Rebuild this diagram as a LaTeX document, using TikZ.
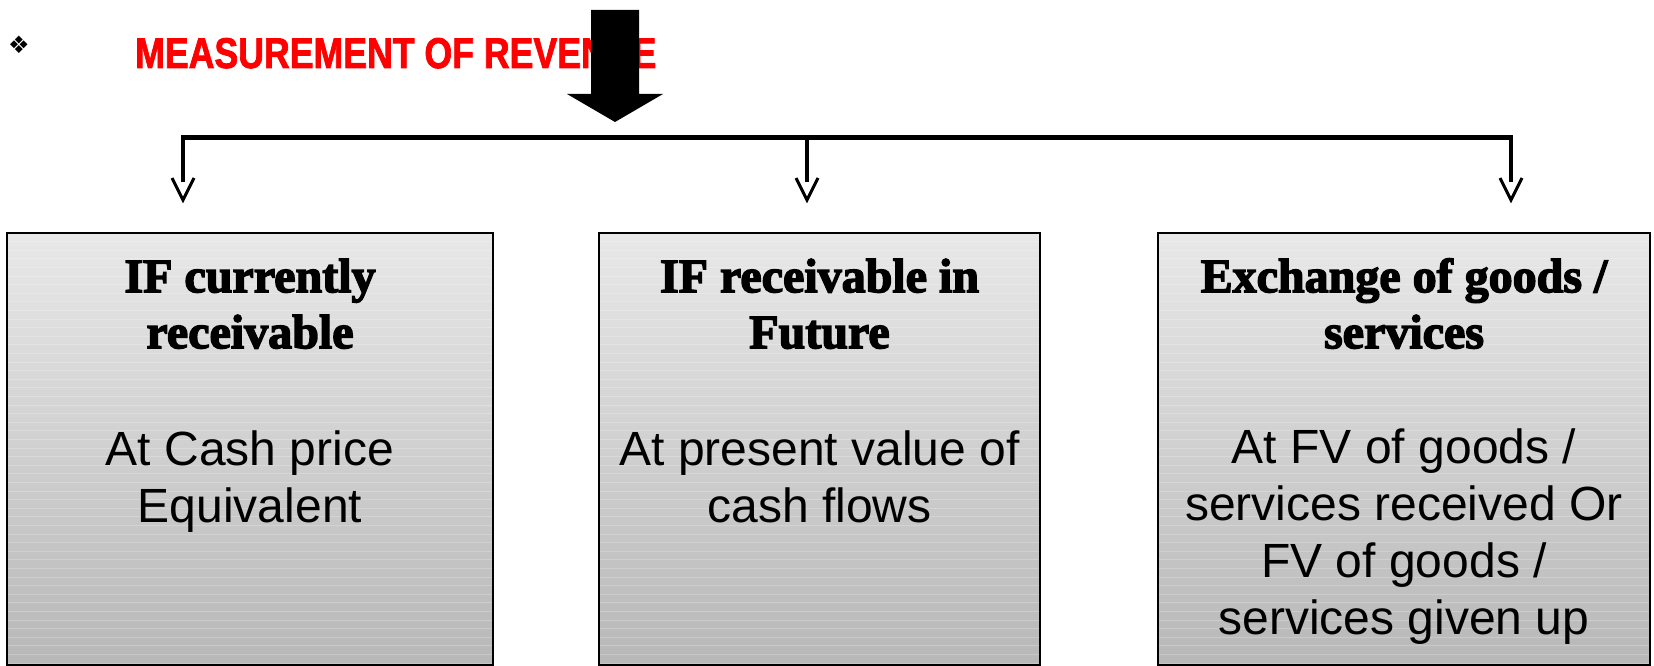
\documentclass[tikz,border=0pt]{standalone}
\usepackage{fontspec}
\setmainfont{Liberation Sans}
\newfontfamily\headfont[FakeBold=3]{Liberation Serif}
\newfontfamily\titlefont[FakeBold=2]{Liberation Sans}
\newfontfamily\symfont{DejaVu Sans}
\usetikzlibrary{calc}
\tikzset{
  panel/.style={draw=black, line width=1.5pt, rectangle, inner sep=0pt,
    top color=gray!18, bottom color=gray!56, minimum height=432pt,
    path picture={\foreach \k in {1,...,50}{\draw[white,opacity=.22,line width=.7pt]
      ([yshift=-\k*8.6pt]path picture bounding box.north west) --
      ([yshift=-\k*8.6pt]path picture bounding box.north east);}}},
  headtext/.style={anchor=north, inner sep=0pt, align=center,
    font=\headfont\bfseries\fontsize{48}{56}\selectfont},
  bodytext/.style={anchor=north, inner sep=0pt, align=center,
    font=\fontsize{48}{57}\selectfont},
  link/.style={line width=4.5pt, line join=miter, line cap=butt},
  vtip/.style={line width=3pt, line join=miter},
  bigarrow/.style={fill=black}
}
\begin{document}
\begin{tikzpicture}[x=1pt,y=-1pt]
\useasboundingbox (0,0) rectangle (1654,666);
% bullet and title
\node[inner sep=0pt] (bullet) at (19,45) {\symfont\fontsize{24}{24}\selectfont ❖};
\node[anchor=base west, inner sep=0pt, text=red] (title) at (135,68)
  {\resizebox{521pt}{30pt}{\titlefont\bfseries MEASUREMENT OF REVENUE}};
% big block arrow
\coordinate (atop) at (615,10);
\coordinate (atip) at (615,122);
\fill[bigarrow] (591,10) -- (639,10) -- (639,94) -- (663,94) -- (atip) -- (567,94) -- (591,94) -- cycle;
% branch connectors
\coordinate (j1) at (183,137.5);
\coordinate (j2) at (807,137.5);
\coordinate (j3) at (1511,137.5);
\coordinate (e1) at (183,182);
\coordinate (e2) at (807,182);
\coordinate (e3) at (1511,182);
\coordinate (t1) at (183,200);
\coordinate (t2) at (807,200);
\coordinate (t3) at (1511,200);
\draw[link] (e1) -- (j1) -- (j3) -- (e3);
\draw[link] (j2) -- (e2);
\foreach \t in {t1,t2,t3}{
  \draw[vtip] ($(\t)+(-11,-22)$) -- (\t) -- ($(\t)+(11,-22)$);
}
% boxes
\node[panel, minimum width=486pt] (box1) at (250,449) {};
\node[panel, minimum width=441pt] (box2) at (819.5,449) {};
\node[panel, minimum width=492pt] (box3) at (1404,449) {};
% texts
\node[headtext] (h1) at (250,252.8) {\strut IF currently\\receivable};
\node[bodytext] (b1) at (250,425) {\strut At Cash price\\Equivalent};
\node[headtext] (h2) at (819.5,252.8) {\strut IF receivable in\\Future};
\node[bodytext] (b2) at (819.5,425) {\strut At present value of\\cash flows};
\node[headtext] (h3) at (1404,252.8) {\strut Exchange of goods /\\services};
\node[bodytext] (b3) at (1404,423) {\strut At FV of goods /\\services received Or\\FV of goods /\\services given up};
\end{tikzpicture}
\end{document}
